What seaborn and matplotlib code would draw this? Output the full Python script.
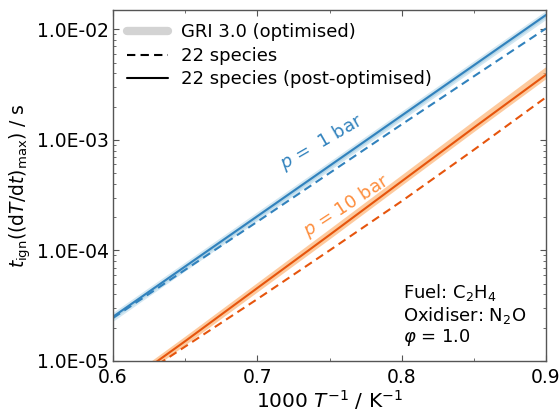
import numpy as np
import pandas as pd
import matplotlib
matplotlib.use("Agg")
import matplotlib.pyplot as plt
from matplotlib.ticker import FuncFormatter, LogLocator, MultipleLocator
from matplotlib.lines import Line2D
import seaborn as sns

# ---- data ----
inv_T = [0.60, 0.65, 0.70, 0.75, 0.80, 0.85, 0.90]

p1_22sp = [2.45e-5, 6.68e-5, 1.82e-4, 5.01e-4, 1.38e-3, 3.76e-3, 1.02e-2]
p1_post = [2.51e-5, 7.16e-5, 2.04e-4, 5.82e-4, 1.66e-3, 4.73e-3, 1.35e-2]
p1_gri_lo = [2.29e-5, 6.53e-5, 1.86e-4, 5.31e-4, 1.51e-3, 4.32e-3, 1.23e-2]
p1_gri_hi = [2.75e-5, 7.85e-5, 2.24e-4, 6.38e-4, 1.82e-3, 5.19e-3, 1.48e-2]

p10_22sp = [5.01e-6, 1.35e-5, 3.63e-5, 1.0e-4, 2.79e-4, 8.13e-4, 2.43e-3]
p10_post = [5.13e-6, 1.51e-5, 4.57e-5, 1.38e-4, 4.22e-4, 1.29e-3, 3.89e-3]
p10_gri_lo = [4.73e-6, 1.40e-5, 4.22e-5, 1.27e-4, 3.89e-4, 1.19e-3, 3.59e-3]
p10_gri_hi = [5.62e-6, 1.68e-5, 5.13e-5, 1.57e-4, 4.84e-4, 1.50e-3, 4.62e-3]

legend_labels = ["GRI 3.0 (optimised)", "22 species", "22 species (post-optimised)"]

sns.set_style("ticks")
plt.rcParams['font.family'] = ['DejaVu Sans']
plt.rcParams['text.color'] = 'black'
plt.rcParams['axes.labelcolor'] = 'black'

blue_line = '#3182bd'
blue_band = '#9ecae1'
orange_line = '#e6550d'
orange_band = '#fdae6b'
orange_text = '#fd8d3c'

fig = plt.figure(figsize=(5.6, 4.13), dpi=100)
ax = fig.add_axes([0.2018, 0.126, 0.7732, 0.850])

df = pd.DataFrame({
    'x': inv_T * 4,
    'y': p1_22sp + p1_post + p10_22sp + p10_post,
    'series': ['p1_22'] * 7 + ['p1_post'] * 7 + ['p10_22'] * 7 + ['p10_post'] * 7,
})

# GRI bands (outer + inner tone for the blue band)
ax.fill_between(inv_T, p1_gri_lo, p1_gri_hi, color=blue_band, alpha=0.45, lw=0)
p1_in_lo = np.sqrt(np.array(p1_gri_lo) * np.array(p1_post))
p1_in_hi = np.sqrt(np.array(p1_gri_hi) * np.array(p1_post))
ax.fill_between(inv_T, p1_in_lo, p1_in_hi, color=blue_band, alpha=0.55, lw=0)
ax.fill_between(inv_T, p10_gri_lo, p10_gri_hi, color=orange_band, alpha=0.65, lw=0)

sns.lineplot(data=df[df.series == 'p1_22'], x='x', y='y', ax=ax, color=blue_line,
             lw=1.5, linestyle=(0, (4, 2.5)), legend=False)
sns.lineplot(data=df[df.series == 'p1_post'], x='x', y='y', ax=ax, color=blue_line,
             lw=1.5, legend=False)
sns.lineplot(data=df[df.series == 'p10_22'], x='x', y='y', ax=ax, color=orange_line,
             lw=1.5, linestyle=(0, (4, 2.5)), legend=False)
sns.lineplot(data=df[df.series == 'p10_post'], x='x', y='y', ax=ax, color=orange_line,
             lw=1.5, legend=False)

ax.set_yscale('log')
ax.set_xlim(0.6, 0.9)
ax.set_ylim(1e-5, 1.5e-2)
ax.xaxis.set_major_locator(MultipleLocator(0.1))
ax.xaxis.set_minor_locator(MultipleLocator(0.05))
ax.xaxis.set_major_formatter(FuncFormatter(lambda v, p: f"{v:.1f}"))
ax.yaxis.set_major_locator(LogLocator(base=10, numticks=10))
ax.yaxis.set_minor_locator(LogLocator(base=10, subs=np.arange(2, 10), numticks=10))
ax.yaxis.set_major_formatter(FuncFormatter(lambda v, p: f"{v:.1E}"))

spine_col = '#555555'
for s in ax.spines.values():
    s.set_color(spine_col)
    s.set_linewidth(1.0)
ax.tick_params(which='both', direction='in', top=True, right=True, colors=spine_col,
               labelcolor='black', labelsize=13.5)
ax.tick_params(which='major', length=4)
ax.tick_params(which='minor', length=2.5)
ax.tick_params(axis='x', pad=5)
ax.tick_params(axis='y', pad=3)

ax.set_xlabel("1000 $T^{-1}$ / K$^{-1}$", fontsize=14.5, labelpad=1)
ax.set_ylabel(r"$t_\mathrm{ign}((\mathrm{d}T/\mathrm{d}t)_\mathrm{max})$ / s", fontsize=13.5, labelpad=3)

ax.text(0.7448, 9.5e-4, "$p$ =  1 bar", color=blue_line, fontsize=13, rotation=30,
        ha='center', va='center')
ax.text(0.7614, 2.5e-4, "$p$ = 10 bar", color=orange_text, fontsize=13, rotation=33,
        ha='center', va='center')

ax.text(0.67, 0.225, "Fuel: C$_2$H$_4$\nOxidiser: N$_2$O\n$\\varphi$ = 1.0",
        transform=ax.transAxes, fontsize=13, ha='left', va='top', linespacing=1.1)

handles = [Line2D([], [], color='lightgrey', lw=6),
           Line2D([], [], color='black', lw=1.5, linestyle=(0, (4, 2.5))),
           Line2D([], [], color='black', lw=1.5)]
ax.legend(handles, legend_labels, loc='upper left', frameon=False, fontsize=13,
          handlelength=2.3, borderaxespad=0.35, labelspacing=0.3, handletextpad=0.7,
          bbox_to_anchor=(0.0, 1.0))

fig.savefig('out.png', dpi=100)
